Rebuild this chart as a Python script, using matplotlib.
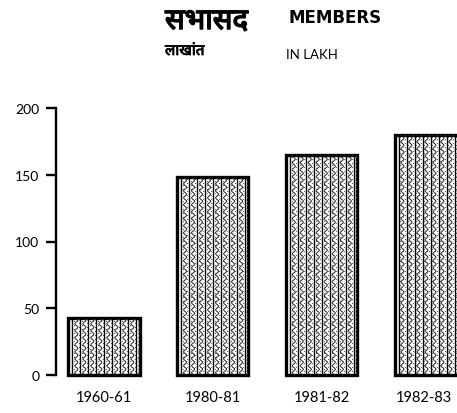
import numpy as np
import matplotlib
matplotlib.use("Agg")
import matplotlib.pyplot as plt
from matplotlib import font_manager
from matplotlib import patheffects as pe
from matplotlib.transforms import IdentityTransform, ScaledTranslation
from matplotlib.lines import Line2D

# Membership (in lakh) by year
years = ["1960-61", "1980-81", "1981-82", "1982-83"]
members = [43, 148, 165, 180]
yticks = [0, 50, 100, 150, 200]

title_hi = "सभासद"
title_en = "MEMBERS"
unit_hi = "लाखांत"
unit_en = "IN LAKH"


def pick_font(candidates, fallback):
    names = {f.name for f in font_manager.fontManager.ttflist}
    for c in candidates:
        if c in names:
            return c
    return fallback


deva = pick_font(["Noto Sans Devanagari", "Mukta", "Ek Mukta", "Hind",
                  "Yantramanav", "FreeSans"], "DejaVu Sans")
latin = pick_font(["Lato", "Open Sans", "DejaVu Sans"], "DejaVu Sans")

W, H = 457, 414
fig = plt.figure(figsize=(W / 100, H / 100), dpi=100)
fig.patch.set_facecolor("white")

# axes placed so the y-spine sits near x=56px, y=0 at 376px, y=200 at 109px
left, right = 56, 457
bottom, top = 376, 109
ax = fig.add_axes([left / W, (H - bottom) / H, (right - left) / W, (bottom - top) / H])

x = np.arange(len(years))
spacing_px = 108.7
x_lo = -(104 - left) / spacing_px
ax.set_xlim(x_lo, x_lo + (right - left) / spacing_px)
ax.set_ylim(0, 200)

bars = ax.bar(x, members, width=0.655, facecolor="white", edgecolor="black",
              linewidth=2.4, clip_on=False, zorder=3)

# texture inside each bar: vertical rules with wavy strands between them
fig.canvas.draw()
for b in bars:
    (x0, y0), (x1, y1) = ax.transData.transform([(b.get_x(), 0),
                                                 (b.get_x() + b.get_width(), b.get_height())])
    step = 8.0
    xs = np.arange(x0 + 4, x1, step)
    for xv in xs:
        ln = Line2D([xv, xv], [y0, y1], color="black", lw=1.0,
                    transform=IdentityTransform(), zorder=4)
        ln.set_clip_path(b)
        fig.add_artist(ln)
        yy = np.linspace(y0, y1, int((y1 - y0) * 2) + 2)
        wx = xv + step / 2 + 1.5 * np.sin(yy * 2 * np.pi / 7.0)
        wl = Line2D(wx, yy, color="#222222", lw=0.7,
                    transform=IdentityTransform(), zorder=4)
        wl.set_clip_path(b)
        fig.add_artist(wl)
        # fine stipple either side of the strand
        dy = np.arange(y0 + 2, y1, 4.0)
        for k, off in enumerate((1.8, 6.2)):
            dl = Line2D(np.full_like(dy, xv + off), dy + 2 * k, ls="none",
                        marker="s", ms=0.7, mfc="#555555", mec="none",
                        transform=IdentityTransform(), zorder=4)
            dl.set_clip_path(b)
            fig.add_artist(dl)

for s in ("top", "right", "bottom"):
    ax.spines[s].set_visible(False)
ax.spines["left"].set_linewidth(1.7)
ax.spines["left"].set_bounds(0, 200)

ax.set_yticks(yticks)
ax.set_yticklabels([str(v) for v in yticks], fontsize=10, family=latin)
ax.tick_params(axis="y", direction="out", length=7, width=1.7, pad=5)

ax.set_xticks(x)
ax.set_xticklabels(years, fontsize=10.5, family=latin)
ax.tick_params(axis="x", length=0, pad=11)
# keep the last year label inside the right edge
last = ax.get_xticklabels()[-1]
last.set_transform(last.get_transform() + ScaledTranslation(-6 / 100, 0, fig.dpi_scale_trans))

# headings
bold_deva = [pe.withStroke(linewidth=1.1, foreground="black")]
fig.text(165 / W, 1 - 30 / H, title_hi, fontsize=21, fontweight="bold",
         family=[deva, "DejaVu Sans"], ha="left", va="baseline",
         path_effects=bold_deva)
fig.text(288 / W, 1 - 23 / H, title_en, fontsize=12, fontweight="bold",
         family="DejaVu Sans", ha="left", va="baseline")
fig.text(165 / W, 1 - 56 / H, unit_hi, fontsize=11, fontweight="bold",
         family=[deva, "DejaVu Sans"], ha="left", va="baseline",
         path_effects=[pe.withStroke(linewidth=0.6, foreground="black")])
fig.text(286 / W, 1 - 59 / H, unit_en, fontsize=9.5,
         family=latin, ha="left", va="baseline")

fig.savefig("out.png", dpi=100, facecolor="white")
